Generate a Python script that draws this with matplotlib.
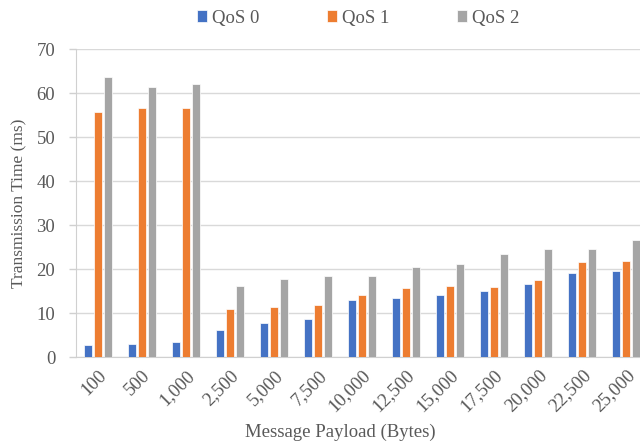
import matplotlib
matplotlib.use("Agg")
import matplotlib.pyplot as plt
import numpy as np

plt.rcParams['font.family'] = ['Liberation Serif', 'DejaVu Serif']

payloads = ["100", "500", "1,000", "2,500", "5,000", "7,500", "10,000",
            "12,500", "15,000", "17,500", "20,000", "22,500", "25,000"]
qos0 = [2.7, 2.95, 3.3, 6.2, 7.65, 8.7, 12.9, 13.3, 14.1, 14.9, 16.7, 19.0, 19.6]
qos1 = [55.7, 56.6, 56.5, 10.8, 11.3, 11.9, 14.2, 15.6, 16.1, 16.0, 17.5, 21.6, 21.9]
qos2 = [63.6, 61.3, 62.1, 16.1, 17.7, 18.4, 18.5, 20.4, 21.1, 23.3, 24.5, 24.5, 26.6]
series = [("QoS 0", qos0, "#4472C4"), ("QoS 1", qos1, "#ED7D31"), ("QoS 2", qos2, "#A5A5A5")]

fig = plt.figure(figsize=(6.4, 4.43), dpi=100)
# plot area runs past the right edge of the canvas
ax = fig.add_axes([76 / 640, 86 / 443, 572 / 640, 308 / 443])

x = np.arange(len(payloads))
step = 0.225
width = 0.185
for i, (name, vals, color) in enumerate(series):
    ax.bar(x + (i - 1) * step, vals, width, color=color, edgecolor="white",
           linewidth=0.5, label=name, zorder=3)

ax.set_xlim(-0.5, len(payloads) - 0.5)
ax.set_ylim(0, 70)
ax.set_yticks(range(0, 71, 10))
ax.yaxis.grid(True, color="#d9d9d9", linewidth=1, zorder=0)
ax.set_xticks(x)
ax.set_xticklabels(payloads, rotation=45, ha="right", rotation_mode="anchor")
ax.tick_params(axis="both", labelsize=13.5, labelcolor="#595959")
ax.tick_params(axis="x", length=0, pad=7)
ax.tick_params(axis="y", length=5, color="#d0d0d0", width=1, pad=10)
for s in ["top", "right"]:
    ax.spines[s].set_visible(False)
for s in ["left", "bottom"]:
    ax.spines[s].set_color("#d0d0d0")
ax.set_ylabel("Transmission Time (ms)", fontsize=12.5, color="#595959", labelpad=9)
ax.set_xlabel("Message Payload (Bytes)", fontsize=13.5, color="#595959")
ax.xaxis.set_label_coords((340 - 76) / 572, -0.215)
ax.yaxis.set_label_coords(-0.085, 0.5)

fig.legend(loc="center", bbox_to_anchor=(358 / 640, 1 - 18 / 443), ncol=3, frameon=False,
           fontsize=13.5, handlelength=0.55, handleheight=0.55, columnspacing=3.6,
           handletextpad=0.25, labelcolor="#595959")

fig.savefig("out.png", dpi=100)
